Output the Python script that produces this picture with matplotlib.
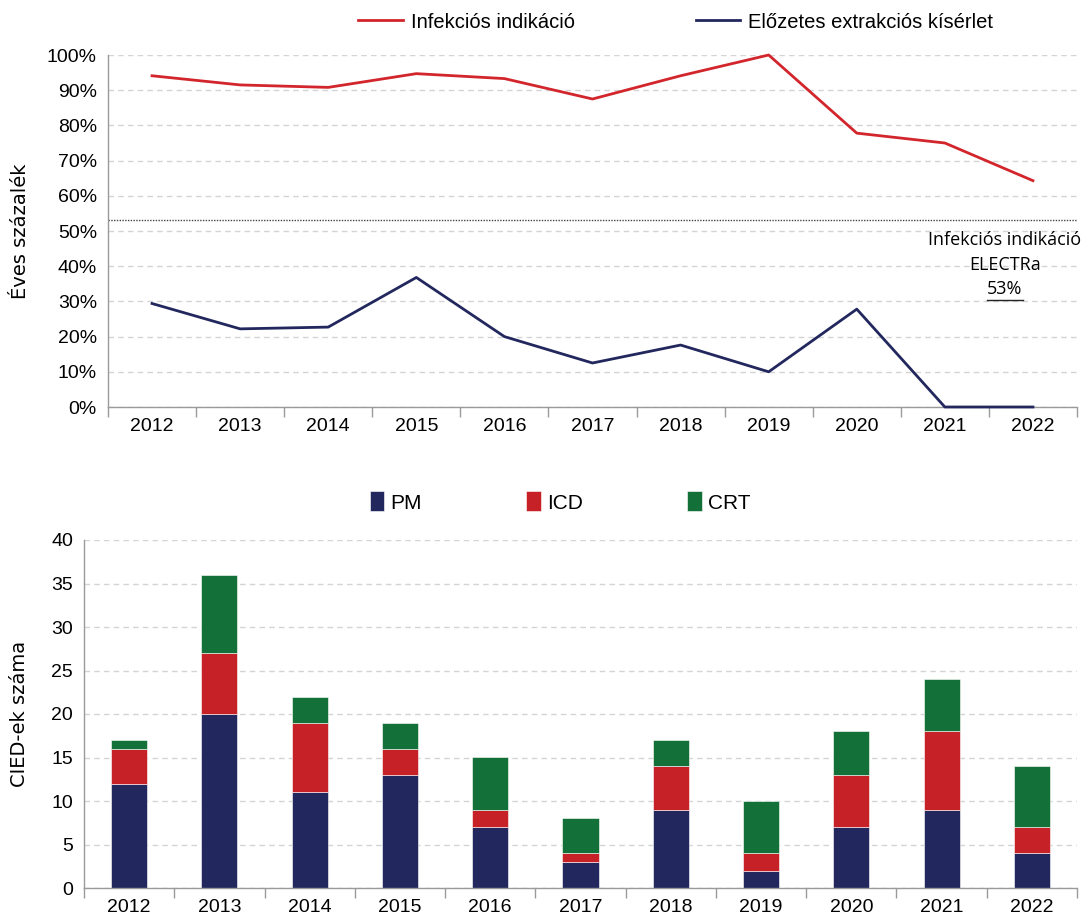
import matplotlib
matplotlib.use("Agg")
import matplotlib.pyplot as plt
import numpy as np

years = ["2012", "2013", "2014", "2015", "2016", "2017", "2018", "2019", "2020", "2021", "2022"]
infection_pct = [94.1, 91.5, 90.8, 94.7, 93.3, 87.5, 94.1, 100.0, 77.8, 75.0, 64.3]
prior_extraction_pct = [29.4, 22.2, 22.7, 36.8, 20.0, 12.5, 17.6, 10.0, 27.8, 0.0, 0.0]
electra_ref = 53
pm = [12, 20, 11, 13, 7, 3, 9, 2, 7, 9, 4]
icd = [4, 7, 8, 3, 2, 1, 5, 2, 6, 9, 3]
crt = [1, 9, 3, 3, 6, 4, 3, 6, 5, 6, 7]

RED = "#d2262c"
NAVY = "#22285e"
BAR_RED = "#c52127"
GREEN = "#137038"
GRID = "#d4d4d4"
AX = "#9a9a9a"
NARROW = ["Liberation Sans", "DejaVu Sans"]

fig = plt.figure(figsize=(10.81, 9.22), dpi=100)
W, H = 1081, 922

def style_axis(ax, n):
    ax.set_xlim(-0.5, n - 0.5)
    for s in ["top", "right"]:
        ax.spines[s].set_visible(False)
    for s in ["left", "bottom"]:
        ax.spines[s].set_color(AX)
        ax.spines[s].set_linewidth(1.0)
    ax.set_xticks(np.arange(n))
    ax.set_xticklabels(years, fontfamily=NARROW, fontsize=14)
    ax.set_xticks(np.arange(n + 1) - 0.5, minor=True)
    ax.tick_params(axis="x", which="major", length=0, pad=8)
    ax.tick_params(axis="x", which="minor", length=7, color=AX, width=1)
    ax.tick_params(axis="y", length=0, pad=8)
    for lab in ax.get_yticklabels():
        lab.set_fontfamily(NARROW)
        lab.set_fontsize(14)
    ax.yaxis.grid(True, color=GRID, linestyle=(0, (4, 3)), linewidth=1)
    ax.set_axisbelow(True)

# ---- Top line chart ----
x = np.arange(len(years))
ax1 = fig.add_axes([108 / W, 1 - 407 / H, (1077 - 108) / W, (407 - 55) / H])
ax1.plot(x, infection_pct, color=RED, lw=2.0, label="Infekciós indikáció", clip_on=False, zorder=3)
ax1.plot(x, prior_extraction_pct, color=NAVY, lw=2.0, label="Előzetes extrakciós kísérlet", clip_on=False, zorder=3)
ax1.axhline(electra_ref, color="#444444", lw=1.0, linestyle=(0, (1, 1)), zorder=2)
ax1.set_ylim(0, 100)
ax1.set_yticks(np.arange(0, 101, 10))
ax1.set_yticklabels([f"{v}%" for v in range(0, 101, 10)])
style_axis(ax1, len(years))
ax1.set_ylabel("Éves százalék", fontsize=14)
ax1.yaxis.set_label_coords(-0.08, 0.5)

fig.legend(handles=ax1.get_lines()[:2], loc="center", bbox_to_anchor=(0.625, 1 - 22 / H),
           ncol=2, frameon=False, handlelength=2.2, columnspacing=6.0,
           handletextpad=0.4, prop={"family": NARROW, "size": 14.5})

# annotation
ann_x = 1005 / W
for txt, yy in [("Infekciós indikáció", 240), ("ELECTRa", 265), (f"{electra_ref}%", 289)]:
    fig.text(ann_x, 1 - yy / H, txt, ha="center", va="center", fontsize=13, family="Open Sans")
fig.add_artist(plt.Line2D([987 / W, 1023 / W], [1 - 300 / H, 1 - 300 / H], color="#222222", lw=1.0))

# ---- Bottom stacked bar chart ----
ax2 = fig.add_axes([84 / W, 1 - 888 / H, (1077 - 84) / W, (888 - 540) / H])
bw = 0.4
b1 = ax2.bar(x, pm, bw, color=NAVY, label="PM", edgecolor="white", linewidth=0.4)
b2 = ax2.bar(x, icd, bw, bottom=pm, color=BAR_RED, label="ICD", edgecolor="white", linewidth=0.4)
b3 = ax2.bar(x, crt, bw, bottom=np.array(pm) + np.array(icd), color=GREEN, label="CRT",
             edgecolor="white", linewidth=0.4)
ax2.set_ylim(0, 40)
ax2.set_yticks(np.arange(0, 41, 5))
style_axis(ax2, len(years))
ax2.set_ylabel("CIED-ek száma", fontsize=14)
ax2.yaxis.set_label_coords(-0.055, 0.5)

fig.legend(handles=[b1, b2, b3], loc="center", bbox_to_anchor=(0.518, 1 - 502 / H), ncol=3,
           frameon=False, handlelength=0.7, handleheight=1.1, handletextpad=0.3, columnspacing=5.0,
           prop={"family": NARROW, "size": 15})

fig.savefig("out.png", dpi=100)
